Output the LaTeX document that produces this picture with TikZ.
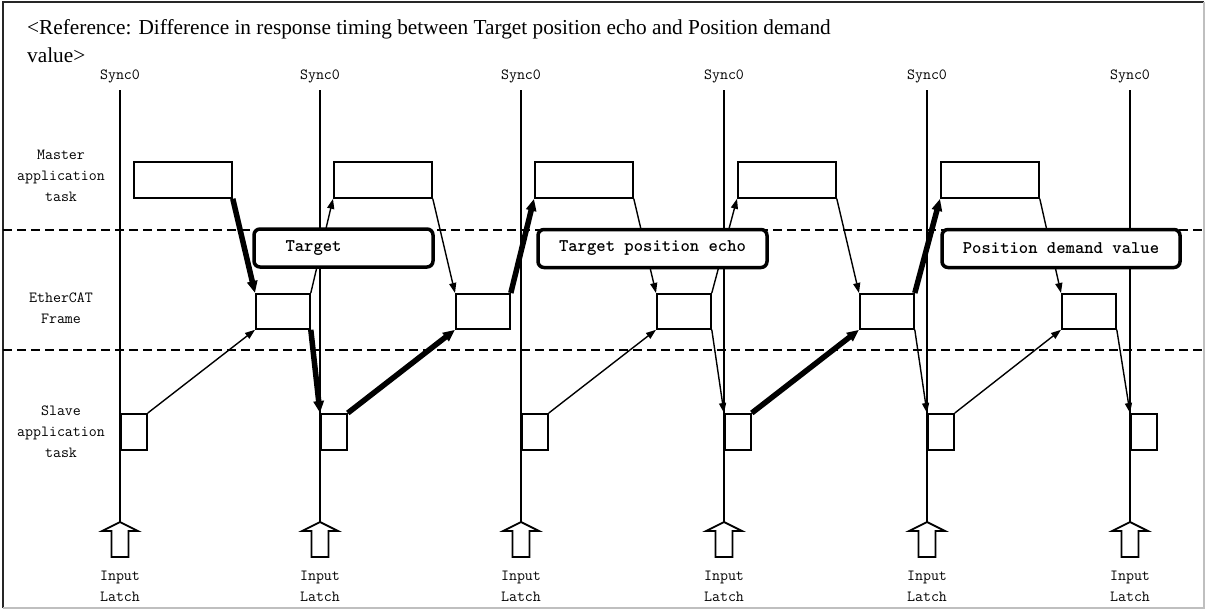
\documentclass[tikz,border=0pt]{standalone}
\usepackage{fontspec}
\setmainfont{Liberation Serif}
\usetikzlibrary{arrows.meta}
\newcommand{\lblfont}{\ttfamily\fontsize{15.5}{21}\selectfont}
\newcommand{\callfont}{\ttfamily\bfseries\fontsize{17.8}{20}\selectfont}
\tikzset{
  syncline/.style={line width=1.8pt},
  sepline/.style={line width=1.6pt,dash pattern=on 9pt off 5pt},
  mbox/.style={draw,line width=1.8pt,minimum width=98pt,minimum height=36pt,anchor=north west,inner sep=0pt},
  fbox/.style={draw,line width=1.8pt,minimum width=54pt,minimum height=35pt,anchor=north west,inner sep=0pt},
  sbox/.style={draw,line width=1.8pt,minimum width=26pt,minimum height=36pt,anchor=north west,inner sep=0pt},
  thinarr/.style={line width=1.4pt,-{Triangle[length=10pt,width=7pt]}},
  thickarr/.style={line width=5.5pt,-{Triangle[length=12pt,width=10pt]}},
  callout/.style={draw,fill=white,line width=3.5pt,rounded corners=6pt,minimum height=38pt,inner xsep=0pt,font=\callfont},
  latch/.style={draw,fill=white,line width=1.8pt}
}
\begin{document}
\begin{tikzpicture}[x=1pt,y=-1pt]
  \useasboundingbox (0,0) rectangle (1206,610);
  % border
  \draw[black!85,line width=1.5pt] (3,608)--(3,2)--(1204,2);
  \draw[black!25,line width=1.2pt] (1204,2)--(1204,608)--(3,608);
  % title
  \node[anchor=base west,inner sep=0pt,font=\fontsize{21.3}{25}\selectfont] (title) at (27,35) {<Reference: Difference in response timing between Target position echo and Position demand};
  \node[anchor=base west,inner sep=0pt,font=\fontsize{21.3}{25}\selectfont] (title2) at (27,63) {value>};
  % row labels
  \node[align=center,font=\lblfont] (mlab) at (61,176) {Master\\application\\task};
  \node[align=center,font=\lblfont] (flab) at (61,308) {EtherCAT\\Frame};
  \node[align=center,font=\lblfont] (slab) at (61,432) {Slave\\application\\task};
  % separators
  \draw[sepline] (3,230) -- (1204,230);
  \draw[sepline] (3,350) -- (1204,350);
  % sync lines, latches
  \foreach \i/\x in {1/120,2/320,3/521,4/724,5/927,6/1130}{
    \node[font=\lblfont] (sy\i) at (\x,76) {Sync0};
    \draw[syncline] (\x,90) -- (\x,522);
    \draw[latch] (\x,522) -- (\x+18,531) -- (\x+8.5,531) -- (\x+8.5,557) -- (\x-8.5,557) -- (\x-8.5,531) -- (\x-18,531) -- cycle;
    \node[align=center,font=\lblfont] (il\i) at (\x,586) {Input\\Latch};
    \node[sbox] (s\i) at (\x,413) {};
  }
  \foreach \i/\x in {1/133,2/333,3/534,4/737,5/940}{
    \node[mbox] (m\i) at (\x,161) {};
  }
  \foreach \i/\x in {1/255,2/455,3/656,4/859,5/1061}{
    \node[fbox] (f\i) at (\x,293) {};
  }
  % data flow
  \draw[thickarr] (m1.south east) -- (f1.north west);
  \draw[thinarr] (s1.north east) -- (f1.south west);
  \draw[thinarr] (f1.north east) -- (m2.south west);
  \draw[thickarr] (f1.south east) -- (s2.north west);
  \draw[thinarr] (m2.south east) -- (f2.north west);
  \draw[thickarr] (s2.north east) -- (f2.south west);
  \draw[thickarr] (f2.north east) -- (m3.south west);
  \draw[thinarr] (m3.south east) -- (f3.north west);
  \draw[thinarr] (s3.north east) -- (f3.south west);
  \draw[thinarr] (f3.north east) -- (m4.south west);
  \draw[thinarr] (f3.south east) -- (s4.north west);
  \draw[thinarr] (m4.south east) -- (f4.north west);
  \draw[thickarr] (s4.north east) -- (f4.south west);
  \draw[thickarr] (f4.north east) -- (m5.south west);
  \draw[thinarr] (f4.south east) -- (s5.north west);
  \draw[thinarr] (m5.south east) -- (f5.north west);
  \draw[thinarr] (s5.north east) -- (f5.south west);
  \draw[thinarr] (f5.south east) -- (s6.north west);
  % callouts
  \node[callout,text width=158pt,minimum width=179pt,align=left,inner xsep=0pt] (c1) at (343.5,248) {\hspace*{21pt}Target};
  \node[callout,minimum width=229pt] (c2) at (652.5,248.5) {Target position echo};
  \node[callout,minimum width=238pt] (c3) at (1061,248.5) {Position demand value};
\end{tikzpicture}
\end{document}
